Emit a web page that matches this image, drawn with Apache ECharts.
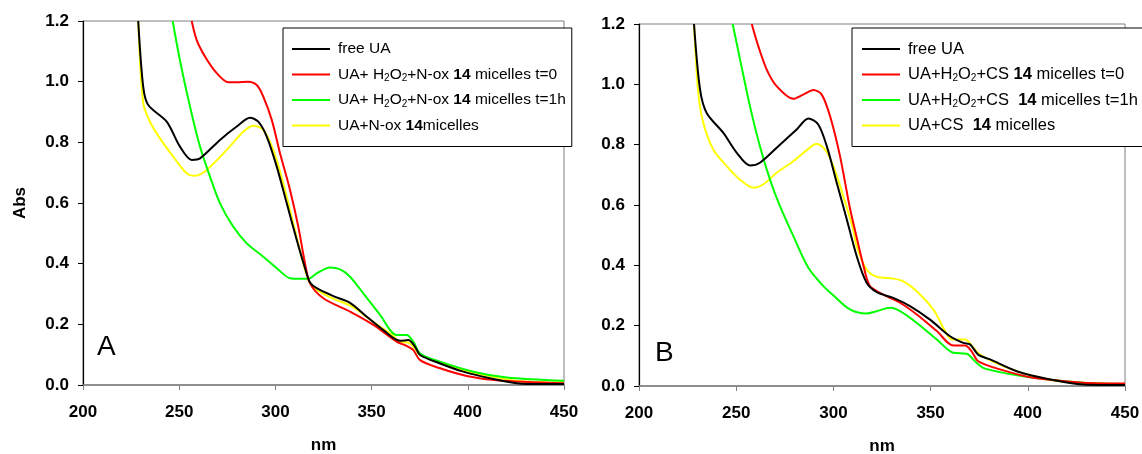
<!DOCTYPE html>
<html>
<head>
<meta charset="utf-8">
<script src="https://cdn.jsdelivr.net/npm/echarts@6/dist/echarts.min.js"></script>
<style>
html,body{margin:0;padding:0;background:#fff;}
#c{width:1142px;height:454px;}
</style>
</head>
<body>
<div id="c"></div>
<script>
// ---------- DATA (nm, Abs) ----------
var xTicks = [200, 250, 300, 350, 400, 450];
var yTicks = [0.0, 0.2, 0.4, 0.6, 0.8, 1.0, 1.2];

// Panel A
var A_freeUA = [[228.7,1.2],[231.3,0.983],[233.9,0.923],[243.5,0.868],[250.4,0.786],[256.5,0.742],[260.8,0.747],[271.2,0.808],[279.9,0.852],[286.8,0.881],[291.1,0.868],[295.5,0.819],[300.7,0.72],[305.9,0.599],[311.1,0.478],[315.4,0.385],[318,0.338],[321.5,0.319],[330.1,0.293],[338.8,0.271],[347.5,0.225],[356.1,0.181],[364.8,0.146],[369.1,0.148],[372.6,0.126],[375.2,0.099],[385.6,0.071],[397.7,0.044],[411.5,0.022],[425.4,0.006],[439,0.003],[450,0.003]];
var A_t0 = [[256.5,1.2],[259.1,1.137],[263.4,1.083],[269.5,1.028],[275.5,0.998],[279.9,0.998],[285.9,1.0],[290.3,0.989],[293.7,0.951],[298.1,0.874],[302.4,0.764],[307.6,0.643],[311.9,0.522],[315.4,0.401],[318,0.335],[324.9,0.286],[338.8,0.242],[350.9,0.198],[363,0.143],[368.2,0.129],[371.7,0.115],[375.2,0.082],[385.6,0.055],[399.4,0.03],[415,0.016],[450,0.006]];
var A_t1h = [[246.6,1.2],[250.4,1.07],[255.6,0.918],[260.8,0.786],[266,0.687],[271.2,0.599],[278.1,0.522],[285.1,0.467],[293.7,0.423],[300.7,0.385],[307.6,0.352],[312.8,0.35],[317,0.35],[321.5,0.368],[328.4,0.387],[333.6,0.381],[338.8,0.357],[345.7,0.302],[354.4,0.231],[363,0.165],[368.2,0.165],[371.7,0.143],[375.2,0.104],[385.6,0.077],[402.9,0.044],[420.2,0.025],[450,0.014]];
var A_micelles = [[228.7,1.2],[231.3,0.929],[234.8,0.868],[240,0.813],[246.9,0.753],[253.9,0.698],[258.2,0.69],[264.3,0.709],[274.7,0.775],[283.3,0.835],[288.5,0.855],[293.7,0.841],[298.9,0.775],[304.1,0.665],[309.3,0.533],[314.5,0.401],[318,0.335],[322,0.312],[330,0.285],[340,0.258],[350,0.212],[360,0.168],[365,0.142],[369,0.14],[372,0.124],[375,0.1],[385,0.074],[400,0.045],[425,0.014],[450,0.008]];

// Panel B
var B_freeUA = [[228.3,1.2],[231.4,0.983],[234.8,0.905],[243.4,0.839],[250.3,0.773],[257.1,0.731],[262.2,0.74],[272.5,0.8],[281.1,0.85],[287.1,0.887],[292.2,0.867],[296.6,0.795],[301.7,0.674],[306.9,0.552],[312,0.43],[317.1,0.342],[322.3,0.311],[330.8,0.292],[339.4,0.265],[349.7,0.22],[360,0.165],[366.8,0.143],[370.3,0.138],[374.5,0.104],[380.6,0.088],[394.3,0.049],[411.4,0.022],[428.4,0.005],[450,0.003]];
var B_t0 = [[258,1.2],[261.4,1.126],[265.7,1.049],[270.8,0.994],[279.4,0.952],[284.5,0.966],[289.7,0.981],[294,0.966],[298.3,0.894],[303.4,0.762],[308.5,0.59],[312.8,0.47],[315.4,0.4],[318.8,0.331],[325.7,0.303],[334.3,0.276],[342.9,0.237],[353.2,0.182],[361.7,0.134],[367.7,0.134],[371.1,0.115],[374.5,0.082],[385.7,0.055],[402.8,0.027],[428.4,0.011],[450,0.008]];
var B_t1h = [[248.2,1.2],[252,1.082],[257.1,0.927],[262.2,0.795],[267.4,0.684],[272.5,0.596],[279.4,0.497],[287.1,0.392],[295,0.33],[300,0.3],[308.5,0.254],[317.1,0.24],[322.3,0.248],[329.1,0.259],[334.3,0.248],[342.9,0.209],[353.2,0.154],[361.7,0.11],[368.6,0.107],[372.8,0.082],[377.1,0.06],[385.7,0.046],[402.8,0.027],[428.4,0.011],[450,0.007]];
var B_micelles = [[228.3,1.2],[230.5,0.972],[233.1,0.872],[238.2,0.784],[245.1,0.729],[252,0.684],[258.8,0.657],[263.9,0.668],[270.8,0.707],[279.4,0.745],[287.1,0.786],[291.4,0.803],[295.7,0.784],[300,0.729],[305.1,0.629],[310.2,0.519],[312,0.463],[317.1,0.386],[322.3,0.362],[330.8,0.356],[336,0.347],[342.9,0.314],[351.4,0.254],[361.7,0.154],[367.7,0.154],[372,0.127],[375.4,0.104],[387.4,0.066],[402.8,0.033],[420,0.013],[450,0.006]];

// Series names and legend labels (rich text markup)
var namesA = ['free UA', 'UA+ H2O2+N-ox 14 micelles t=0', 'UA+ H2O2+N-ox 14 micelles t=1h', 'UA+N-ox 14micelles'];
var labelsA = ['free UA', 'UA+ H{s|2}O{s|2}+N-ox {b|14} micelles t=0', 'UA+ H{s|2}O{s|2}+N-ox {b|14} micelles t=1h', 'UA+N-ox {b|14}micelles'];
var namesB = ['free UA', 'UA+H2O2+CS 14 micelles t=0', 'UA+H2O2+CS  14 micelles t=1h', 'UA+CS  14 micelles'];
var labelsB = ['free UA', 'UA+H{s|2}O{s|2}+CS {b|14} micelles t=0', 'UA+H{s|2}O{s|2}+CS  {b|14} micelles t=1h', 'UA+CS  {b|14} micelles'];
var colors = ['#000000', '#ff0000', '#00ff00', '#ffff00'];
var panelLetters = ['A', 'B'];

// ---------- CHART ----------
var FONT = '"Liberation Sans", Arial, sans-serif';
var labelMap = {};
namesA.forEach(function (n, i) { labelMap[n] = labelsA[i]; });
namesB.forEach(function (n, i) { labelMap[n] = labelsB[i]; });

var chart = echarts.init(document.getElementById('c'), null, {renderer: 'canvas'});

function xAxisFor(gi) {
  return {
    gridIndex: gi, type: 'value', min: xTicks[0], max: xTicks[xTicks.length - 1], interval: 50,
    axisLine: {show: true, onZero: false, lineStyle: {color: '#7f7f7f', width: 1.5}},
    axisTick: {show: true, length: 5, lineStyle: {color: '#7f7f7f', width: 1}},
    splitLine: {show: false},
    axisLabel: {fontSize: 17, fontWeight: 'bold', color: '#000', margin: 19, fontFamily: FONT},
    name: 'nm', nameLocation: 'middle', nameGap: 52,
    nameTextStyle: {fontSize: 17, fontWeight: 'bold', color: '#000', fontFamily: FONT}
  };
}
function yAxisFor(gi, withName) {
  var a = {
    gridIndex: gi, type: 'value', min: yTicks[0], max: yTicks[yTicks.length - 1], interval: 0.2,
    axisLine: {show: true, onZero: false, lineStyle: {color: '#000', width: 1.2}},
    axisTick: {show: true, length: 5, lineStyle: {color: '#000', width: 1}},
    splitLine: {show: false},
    axisLabel: {fontSize: 17, fontWeight: 'bold', color: '#000', margin: 14, fontFamily: FONT,
      formatter: function (v) { return v.toFixed(1); }}
  };
  if (withName) {
    a.name = 'Abs'; a.nameLocation = 'middle'; a.nameGap = 54;
    a.nameTextStyle = {fontSize: 17, fontWeight: 'bold', color: '#000', fontFamily: FONT};
  }
  return a;
}
function legendFor(names, left, padLeft, fs) {
  return {
    data: names, orient: 'vertical', left: left, top: 28,
    icon: 'rect', itemWidth: 38, itemHeight: 2, itemGap: 7.5,
    padding: [12, 6, 12, padLeft],
    borderColor: '#000', borderWidth: 1, backgroundColor: '#fff',
    selectedMode: false,
    formatter: function (n) { return labelMap[n]; },
    textStyle: {
      fontSize: fs, color: '#000', fontFamily: FONT, lineHeight: 18, padding: [0, 0, 0, 3],
      rich: {
        s: {fontSize: 10, lineHeight: 9, verticalAlign: 'bottom', fontFamily: FONT, color: '#000'},
        b: {fontSize: fs, fontWeight: 'bold', lineHeight: 18, fontFamily: FONT, color: '#000'}
      }
    }
  };
}
function lineSeries(name, data, gi, color) {
  return {
    name: name, type: 'line', xAxisIndex: gi, yAxisIndex: gi, data: data,
    showSymbol: false, symbol: 'none', smooth: 0.3, clip: true,
    lineStyle: {color: color, width: 2}, itemStyle: {color: color},
    emphasis: {disabled: true}
  };
}

var seriesA = [A_freeUA, A_t0, A_t1h, A_micelles];
var seriesB = [B_freeUA, B_t0, B_t1h, B_micelles];
var series = [];
// draw order: yellow, green, red, black on top
[3, 2, 1, 0].forEach(function (i) {
  series.push(lineSeries(namesA[i], seriesA[i], 0, colors[i]));
});
[3, 2, 1, 0].forEach(function (i) {
  series.push(lineSeries(namesB[i], seriesB[i], 1, colors[i]));
});

chart.setOption({
  animation: false,
  backgroundColor: '#fff',
  grid: [
    {left: 83, top: 21, width: 481, height: 364, show: true, borderColor: '#7f7f7f', borderWidth: 1,
     containLabel: false, outerBoundsMode: 'none'},
    {left: 639, top: 24, width: 486, height: 362, show: true, borderColor: '#7f7f7f', borderWidth: 1,
     containLabel: false, outerBoundsMode: 'none'}
  ],
  xAxis: [xAxisFor(0), xAxisFor(1)],
  yAxis: [yAxisFor(0, true), yAxisFor(1, false)],
  legend: [legendFor(namesA, 283, 9, 15.5), legendFor(namesB, 852, 10, 16.5)],
  graphic: [
    {type: 'text', left: 97, top: 333, style: {text: panelLetters[0], fontSize: 28, fontFamily: FONT, fill: '#000'}},
    {type: 'text', left: 655, top: 339, style: {text: panelLetters[1], fontSize: 28, fontFamily: FONT, fill: '#000'}}
  ],
  series: series
});
</script>
</body>
</html>
